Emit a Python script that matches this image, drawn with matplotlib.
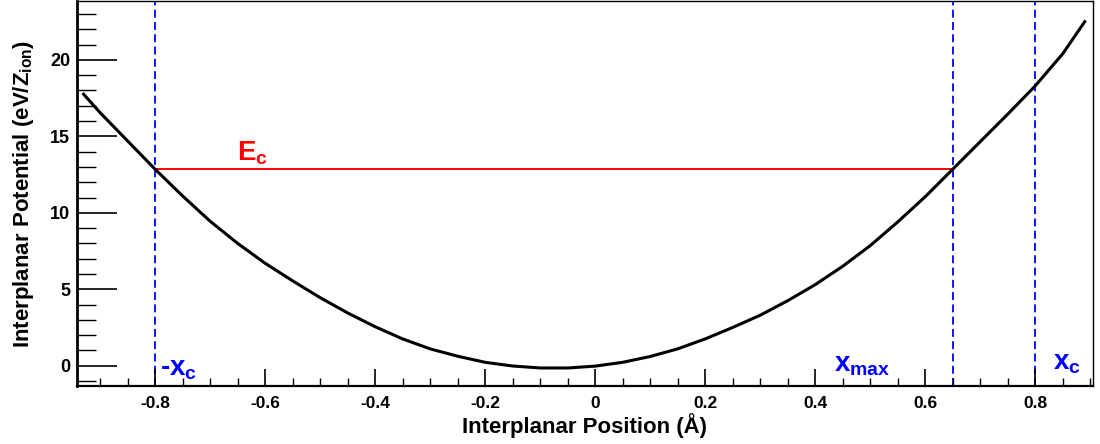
import numpy as np
import matplotlib
matplotlib.use('Agg')
import matplotlib.pyplot as plt
from matplotlib.ticker import MultipleLocator

plt.rcParams['font.family'] = ['Liberation Sans', 'DejaVu Sans']
plt.rcParams['font.weight'] = 'bold'
plt.rcParams['mathtext.default'] = 'regular'

# potential curve
pos = [-0.93, -0.9, -0.85, -0.8, -0.75, -0.7, -0.65, -0.6, -0.55, -0.5,
       -0.45, -0.4, -0.35, -0.3, -0.25, -0.2, -0.15, -0.1, -0.05, 0.0,
       0.05, 0.1, 0.15, 0.2, 0.25, 0.3, 0.35, 0.4, 0.45, 0.5,
       0.55, 0.6, 0.65, 0.7, 0.75, 0.8, 0.85, 0.89]
pot = [17.76, 16.55, 14.7, 12.85, 11.1, 9.45, 8.0, 6.7, 5.55, 4.45,
       3.45, 2.55, 1.75, 1.1, 0.62, 0.22, -0.02, -0.15, -0.15, -0.03,
       0.22, 0.6, 1.1, 1.75, 2.5, 3.3, 4.25, 5.3, 6.5, 7.85,
       9.4, 11.05, 12.85, 14.65, 16.45, 18.3, 20.4, 22.5]

x_c = 0.8
x_max = 0.65
E_c = 12.85

fig = plt.figure(figsize=(11, 4.44), dpi=100)
ax = fig.add_axes([0.07, 0.1306, 0.9236, 0.867])

ax.plot(pos, pot, color='black', lw=2.2, zorder=3)
ax.plot([-x_c, x_max], [E_c, E_c], color='red', lw=1.4, zorder=2)
for xv in [-x_c, x_max, x_c]:
    ax.axvline(xv, color='blue', lw=1.3, ls=(0, (4.4, 2.4)), zorder=1)

ax.text(-0.651, 13.44, 'E$_c$', color='red', fontsize=20, fontweight='bold', ha='left', va='baseline')
ax.text(-0.791, -0.61, '-x$_c$', color='blue', fontsize=20, fontweight='bold', ha='left', va='baseline')
ax.text(0.435, -0.39, 'x$_{max}$', color='blue', fontsize=20, fontweight='bold', ha='left', va='baseline')
ax.text(0.833, -0.28, 'x$_c$', color='blue', fontsize=20, fontweight='bold', ha='left', va='baseline')

ax.set_xlim(-0.942, 0.905)
ax.set_ylim(-1.33, 23.85)

ax.xaxis.set_major_locator(MultipleLocator(0.2))
ax.xaxis.set_minor_locator(MultipleLocator(0.05))
ax.yaxis.set_major_locator(MultipleLocator(5))
ax.yaxis.set_minor_locator(MultipleLocator(1))
ax.xaxis.set_major_formatter(plt.FuncFormatter(lambda v, p: '%g' % round(v, 2)))

ax.tick_params(axis='x', which='major', direction='in', length=12, width=1.2, pad=7, labelsize=12.5)
ax.tick_params(axis='x', which='minor', direction='in', length=6, width=1.0)
ax.tick_params(axis='y', which='major', direction='in', length=29, width=1.2, pad=5, labelsize=13)
ax.tick_params(axis='y', which='minor', direction='in', length=14, width=1.0)
ax.tick_params(top=False, right=False, which='both')

ax.spines['left'].set_linewidth(2)
ax.spines['bottom'].set_linewidth(1.6)
ax.spines['top'].set_linewidth(1)
ax.spines['right'].set_linewidth(1)

ax.set_xlabel('Interplanar Position (Å)', fontsize=16, fontweight='bold')
ax.set_ylabel('Interplanar Potential (eV/Z$_{ion}$)', fontsize=16, fontweight='bold')
ax.xaxis.set_label_coords(0.5, -0.07)
ax.yaxis.set_label_coords(-0.040, 0.5)

fig.savefig('out.png', dpi=100)
